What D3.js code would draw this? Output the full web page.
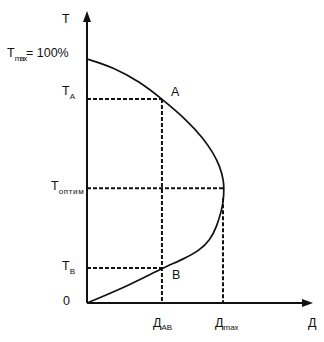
<!DOCTYPE html>
<html><head><meta charset="utf-8">
<script src="https://cdn.jsdelivr.net/npm/d3@7"></script>
<style>body{margin:0;background:#fff}svg{display:block}text{font-family:"Liberation Sans",Arial,sans-serif;fill:#111}</style>
</head><body>
<script>
// curve: D (dose, % of Dmax) vs T (%, of Tmax)
const curveD = [0, 19, 38.7, 54.7, 72.8, 84.9, 92.2, 97.1, 99.6, 100, 99.6, 98.3, 94.7, 89.8, 82.5, 70.5, 54.7, 31.4, 0];
const curveT = [100, 96.7, 90.6, 83.6, 75, 67.5, 61.4, 55.9, 50.4, 47, 42.2, 38.1, 31.3, 25.8, 21.7, 18, 14.2, 7.4, 0];
const levelNames = ["A", "B"];
const levelD = [54.7, 54.7];
const levelT = [83.6, 14.3];
const optD = 100, optT = 47;
const yTickLabels = [["T","max","= 100%"],["T","A",""],["T","оптим",""],["T","B",""],["0","",""]];
const xTickLabels = [["Д","AB"],["Д","max"]];

const W = 324, H = 342;
const svg = d3.select("body").append("svg").attr("width", W).attr("height", H);
const x = d3.scaleLinear().domain([0, 100]).range([87, 224]);
const y = d3.scaleLinear().domain([0, 100]).range([303, 59]);

// axes
svg.append("line").attr("x1", x(0)).attr("y1", y(0)).attr("x2", x(0)).attr("y2", 20)
  .attr("stroke", "#111").attr("stroke-width", 2);
svg.append("path").attr("d", `M${x(0)-4},22 L${x(0)},11 L${x(0)+4},22 Z`).attr("fill", "#111");
svg.append("line").attr("x1", x(0)).attr("y1", y(0)).attr("x2", 304).attr("y2", y(0))
  .attr("stroke", "#111").attr("stroke-width", 2);
svg.append("path").attr("d", `M302,${y(0)-4} L313,${y(0)} L302,${y(0)+4} Z`).attr("fill", "#111");

const dash = {"stroke": "#111", "stroke-width": 2, "stroke-dasharray": "4,2"};
function dl(x1, y1, x2, y2) {
  const l = svg.append("line").attr("x1", x1).attr("y1", y1).attr("x2", x2).attr("y2", y2);
  Object.entries(dash).forEach(([k, v]) => l.attr(k, v));
}
// dashed guides
dl(x(0), y(levelT[0]), x(levelD[0]), y(levelT[0]));
dl(x(levelD[0]), y(levelT[0]), x(levelD[0]), y(0));
dl(x(0), y(levelT[1]), x(levelD[1]), y(levelT[1]));
dl(x(0), y(optT), x(optD) - 1, y(optT));
dl(x(optD) - 1, y(optT) + 10, x(optD) - 1, y(0));

// curve
const pts = curveD.map((d, i) => [x(d), y(curveT[i])]);
svg.append("path").attr("d", d3.line().curve(d3.curveBasis)(pts))
  .attr("fill", "none").attr("stroke", "#111").attr("stroke-width", 1.7);

// point labels
svg.append("text").attr("x", x(levelD[0]) + 9).attr("y", y(levelT[0]) - 3).attr("font-size", 12.5).text(levelNames[0]);
svg.append("text").attr("x", x(levelD[1]) + 10).attr("y", y(levelT[1]) + 11).attr("font-size", 12.5).text(levelNames[1]);

// y labels
const yPos = [[7, 57], [62, 95], [51, 190], [62, 270], [63, 305]];
yTickLabels.forEach((lab, i) => {
  const t = svg.append("text").attr("x", yPos[i][0]).attr("y", yPos[i][1]).attr("font-size", 12.5);
  t.append("tspan").text(lab[0]);
  if (lab[1]) t.append("tspan").attr("dy", 4).attr("font-size", 8).attr("textLength", lab[1].length * (i===2?5:4.2)).text(lab[1]);
  if (lab[2]) t.append("tspan").attr("dy", -4).text(lab[2]);
});
svg.append("text").attr("x", 62).attr("y", 23).attr("font-size", 12.5).text("T");

// x labels
const xPos = [[x(levelD[0]) - 9, 327], [x(optD) - 9, 327]];
xTickLabels.forEach((lab, i) => {
  const t = svg.append("text").attr("x", xPos[i][0]).attr("y", xPos[i][1]).attr("font-size", 12.5);
  t.append("tspan").text(lab[0]);
  t.append("tspan").attr("dy", 3).attr("font-size", 8).text(lab[1]);
});
svg.append("text").attr("x", 308).attr("y", 327).attr("font-size", 12.5).text("Д");
</script>
</body></html>
